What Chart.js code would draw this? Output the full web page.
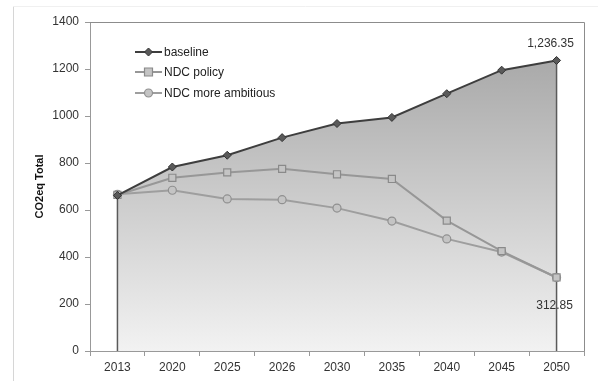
<!DOCTYPE html>
<html>
<head>
<meta charset="utf-8">
<script src="https://cdn.jsdelivr.net/npm/chart.js@4.4.0/dist/chart.umd.min.js"></script>
<style>
  html, body { margin: 0; padding: 0; background: #fff; }
  #wrap { position: relative; width: 598px; height: 381px; }
</style>
</head>
<body>
<div id="wrap"><canvas id="c" width="598" height="381"></canvas></div>
<script>
const categories = ['2013','2020','2025','2026','2030','2035','2040','2045','2050'];
const baseline = [662, 783, 833, 908, 968, 994, 1095, 1195, 1236.35];
const ndcPolicy = [664, 737, 760, 775, 752, 732, 555, 425, 312.85];
const ndcAmbitious = [667, 684, 647, 644, 608, 553, 477, 421, 312.85];
const yTicks = [0, 200, 400, 600, 800, 1000, 1200, 1400];
const seriesNames = ['baseline', 'NDC policy', 'NDC more ambitious'];

const FONT = '"Liberation Sans", Arial, sans-serif';

function drawMarker(ctx, style, r, cx, cy) {
  if (style === 'rectRot') {
    ctx.moveTo(cx, cy - r); ctx.lineTo(cx + r, cy); ctx.lineTo(cx, cy + r); ctx.lineTo(cx - r, cy); ctx.closePath();
  } else if (style === 'rect') {
    const s = r * 0.8;
    ctx.rect(cx - s, cy - s, 2 * s, 2 * s);
  } else {
    ctx.arc(cx, cy, r, 0, Math.PI * 2);
  }
}

const decor = {
  id: 'decor',
  beforeDraw(chart) {
    const ctx = chart.ctx;
    ctx.save();
    ctx.strokeStyle = '#d6d6d6';
    ctx.lineWidth = 1;
    ctx.beginPath();
    ctx.moveTo(13.5, 381);
    ctx.lineTo(13.5, 6.5);
    ctx.stroke();
    ctx.strokeStyle = '#f0f0f0';
    ctx.beginPath();
    ctx.moveTo(13.5, 6.5);
    ctx.lineTo(598, 6.5);
    ctx.stroke();
    ctx.restore();
  },
  beforeDatasetsDraw(chart) {
    const ctx = chart.ctx;
    const x = chart.scales.x, y = chart.scales.y;
    const n = baseline.length - 1;
    ctx.save();
    ctx.strokeStyle = '#5a5a5a';
    ctx.lineWidth = 1.5;
    [0, n].forEach(i => {
      ctx.beginPath();
      ctx.moveTo(x.getPixelForValue(i), y.getPixelForValue(baseline[i]));
      ctx.lineTo(x.getPixelForValue(i), y.getPixelForValue(0));
      ctx.stroke();
    });
    ctx.restore();
  },
  afterDraw(chart) {
    const ctx = chart.ctx;
    const a = chart.chartArea;
    const x = chart.scales.x, y = chart.scales.y;
    ctx.save();
    ctx.strokeStyle = '#8c8c8c';
    ctx.lineWidth = 1;
    ctx.beginPath();
    ctx.moveTo(a.left, Math.round(a.top) + 0.5);
    ctx.lineTo(Math.round(a.right) + 0.5, Math.round(a.top) + 0.5);
    ctx.lineTo(Math.round(a.right) + 0.5, a.bottom);
    ctx.stroke();

    const n = baseline.length - 1;
    ctx.fillStyle = '#333';
    ctx.font = '12px ' + FONT;
    ctx.textAlign = 'center';
    ctx.textBaseline = 'middle';
    ctx.fillText('1,236.35', x.getPixelForValue(n) - 6, y.getPixelForValue(baseline[n]) - 17);
    ctx.fillText('312.85', x.getPixelForValue(n) - 2, y.getPixelForValue(ndcPolicy[n]) + 28);

    const ds = chart.data.datasets;
    const lx = 135, lw = 27;
    const rows = [52, 72, 93];
    ds.forEach((d, i) => {
      const ly = rows[i];
      ctx.strokeStyle = d.borderColor;
      ctx.lineWidth = d.borderWidth;
      ctx.beginPath();
      ctx.moveTo(lx, ly);
      ctx.lineTo(lx + lw, ly);
      ctx.stroke();
      ctx.fillStyle = d.pointBackgroundColor;
      ctx.strokeStyle = d.pointBorderColor;
      ctx.lineWidth = d.pointBorderWidth;
      ctx.beginPath();
      drawMarker(ctx, d.pointStyle, d.pointRadius, lx + lw / 2, ly);
      ctx.fill();
      ctx.stroke();
      ctx.fillStyle = '#222';
      ctx.font = '12px ' + FONT;
      ctx.textAlign = 'left';
      ctx.textBaseline = 'middle';
      ctx.fillText(d.label, lx + lw + 2, ly + 1);
    });
    ctx.restore();
  }
};

new Chart(document.getElementById('c'), {
  type: 'line',
  data: {
    labels: categories,
    datasets: [
      {
        label: seriesNames[0],
        data: baseline,
        borderColor: '#3e3e3e',
        borderWidth: 2,
        pointStyle: 'rectRot',
        pointRadius: 4,
        pointBackgroundColor: '#5a5a5a',
        pointBorderColor: '#333',
        pointBorderWidth: 1,
        tension: 0,
        fill: 'origin',
        backgroundColor: (c) => {
          const a = c.chart.chartArea;
          if (!a) return '#ccc';
          const g = c.chart.ctx.createLinearGradient(0, a.top, 0, a.bottom);
          g.addColorStop(0, '#a0a0a0');
          g.addColorStop(1, '#f2f2f2');
          return g;
        }
      },
      {
        label: seriesNames[1],
        data: ndcPolicy,
        borderColor: '#979797',
        borderWidth: 2,
        pointStyle: 'rect',
        pointRadius: 5,
        pointBackgroundColor: '#c4c4c4',
        pointBorderColor: '#8a8a8a',
        pointBorderWidth: 1.2,
        tension: 0,
        fill: false
      },
      {
        label: seriesNames[2],
        data: ndcAmbitious,
        borderColor: '#9e9e9e',
        borderWidth: 2,
        pointStyle: 'circle',
        pointRadius: 4,
        pointBackgroundColor: '#c4c4c4',
        pointBorderColor: '#909090',
        pointBorderWidth: 1.2,
        tension: 0,
        fill: false
      }
    ]
  },
  options: {
    responsive: false,
    animation: false,
    layout: { padding: { top: 22, right: 14, left: 0, bottom: 0 } },
    plugins: {
      legend: { display: false },
      tooltip: { enabled: false },
      filler: { drawTime: 'beforeDatasetsDraw' }
    },
    scales: {
      x: {
        type: 'category',
        offset: true,
        grid: { offset: true, drawOnChartArea: false, tickLength: 5, color: '#999' },
        border: { color: '#999', width: 1 },
        ticks: { color: '#333', font: { family: FONT, size: 12 }, padding: 4, maxRotation: 0 },
        afterFit: (s) => { s.height = 30; }
      },
      y: {
        min: 0,
        max: 1400,
        afterBuildTicks: (s) => { s.ticks = yTicks.map(v => ({ value: v })); },
        grid: { drawOnChartArea: false, tickLength: 5, color: '#999' },
        border: { color: '#999', width: 1 },
        ticks: { color: '#333', font: { family: FONT, size: 12 }, padding: 6, callback: (v) => String(v) },
        title: {
          display: true,
          text: 'CO2eq Total',
          color: '#111',
          font: { family: FONT, size: 11, weight: 'bold' },
          padding: { top: 33, bottom: 0 }
        },
        afterFit: (s) => { s.width = 90; }
      }
    }
  },
  plugins: [decor]
});
</script>
</body>
</html>
